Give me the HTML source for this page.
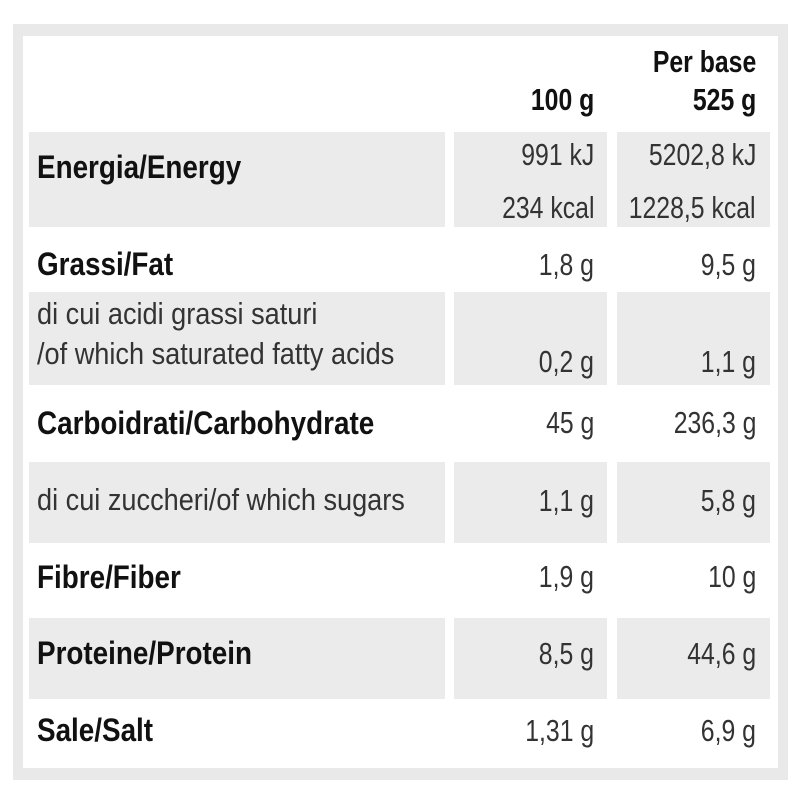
<!DOCTYPE html>
<html><head><style>
body{margin:0;width:800px;height:800px;background:#fff;position:relative;overflow:hidden;font-family:"Liberation Sans",sans-serif;}
.b{position:absolute}
.g{position:absolute;background:#ebebeb}
.t{position:absolute;height:40px;line-height:40px;white-space:nowrap;color:#222;}
.l{left:37px;transform-origin:left center;transform:scaleX(.875)}
.l.bold{transform:scaleX(.87)}
.r{transform-origin:right center;transform:scaleX(.8);text-align:right}
.c2{right:206px}
.c3{right:44px}
.bold{font-weight:bold;font-size:32px;color:#111}
.n{font-size:31px;color:#333;font-weight:normal}
.r.bold{font-size:31px}
</style></head><body>
<div class="b" style="left:13px;top:24px;width:775px;height:756px;background:#e9e9e9"></div>
<div class="b" style="left:23px;top:36px;width:755px;height:732px;background:#fff"></div>

<div class="g" style="left:29px;top:132px;width:416px;height:95px"></div>
<div class="g" style="left:454px;top:132px;width:153px;height:95px"></div>
<div class="g" style="left:617px;top:132px;width:153px;height:95px"></div>

<div class="g" style="left:29px;top:292px;width:416px;height:93px"></div>
<div class="g" style="left:454px;top:292px;width:153px;height:93px"></div>
<div class="g" style="left:617px;top:292px;width:153px;height:93px"></div>

<div class="g" style="left:29px;top:462px;width:416px;height:81px"></div>
<div class="g" style="left:454px;top:462px;width:153px;height:81px"></div>
<div class="g" style="left:617px;top:462px;width:153px;height:81px"></div>

<div class="g" style="left:29px;top:618px;width:416px;height:81px"></div>
<div class="g" style="left:454px;top:618px;width:153px;height:81px"></div>
<div class="g" style="left:617px;top:618px;width:153px;height:81px"></div>

<div class="t r bold c3" style="top:42px">Per base</div>
<div class="t r bold c2" style="top:80px">100 g</div>
<div class="t r bold c3" style="top:80px">525 g</div>

<div class="t l bold" style="top:147px">Energia/Energy</div>
<div class="t r n c2" style="top:135px">991 kJ</div>
<div class="t r n c3" style="top:135px">5202,8 kJ</div>
<div class="t r n c2" style="top:188px">234 kcal</div>
<div class="t r n c3" style="top:188px">1228,5 kcal</div>

<div class="t l bold" style="top:244px">Grassi/Fat</div>
<div class="t r n c2" style="top:245px">1,8 g</div>
<div class="t r n c3" style="top:245px">9,5 g</div>

<div class="t l n" style="top:294px">di cui acidi grassi saturi</div>
<div class="t l n" style="top:334px">/of which saturated fatty acids</div>
<div class="t r n c2" style="top:342px">0,2 g</div>
<div class="t r n c3" style="top:342px">1,1 g</div>

<div class="t l bold" style="top:403px">Carboidrati/Carbohydrate</div>
<div class="t r n c2" style="top:403px">45 g</div>
<div class="t r n c3" style="top:403px">236,3 g</div>

<div class="t l n" style="top:480px">di cui zuccheri/of which sugars</div>
<div class="t r n c2" style="top:481px">1,1 g</div>
<div class="t r n c3" style="top:481px">5,8 g</div>

<div class="t l bold" style="top:557px">Fibre/Fiber</div>
<div class="t r n c2" style="top:557px">1,9 g</div>
<div class="t r n c3" style="top:557px">10 g</div>

<div class="t l bold" style="top:633px">Proteine/Protein</div>
<div class="t r n c2" style="top:634px">8,5 g</div>
<div class="t r n c3" style="top:634px">44,6 g</div>

<div class="t l bold" style="top:710px">Sale/Salt</div>
<div class="t r n c2" style="top:711px">1,31 g</div>
<div class="t r n c3" style="top:711px">6,9 g</div>
</body></html>
